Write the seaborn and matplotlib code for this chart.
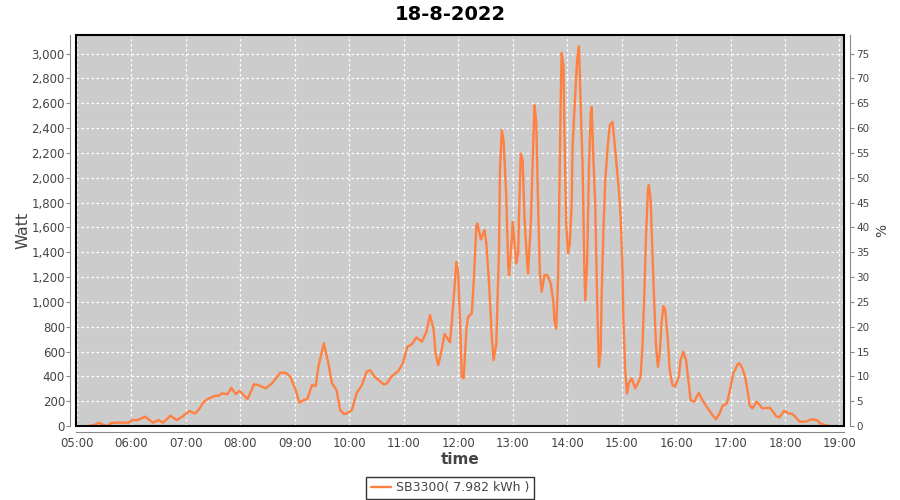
import pandas as pd
import matplotlib
matplotlib.use('Agg')
import matplotlib.pyplot as plt
import matplotlib.dates as mdates
import matplotlib.ticker as mticker
from matplotlib.patches import Rectangle
import seaborn as sns

# ── Data ───────────────────────────────────────────────────────────
day = '2022-08-18'
title = '18-8-2022'
series_label = 'SB3300( 7.982 kWh )'

times = [
    '05:13', '05:20', '05:24', '05:29', '05:33', '05:38', '05:45', '05:57',
    '06:01', '06:07', '06:15', '06:24', '06:30', '06:35', '06:43', '06:50',
    '06:57', '07:04', '07:10', '07:14', '07:20', '07:24', '07:31', '07:36',
    '07:40', '07:46', '07:50', '07:55', '07:59', '08:08', '08:15', '08:20',
    '08:28', '08:35', '08:44', '08:50', '08:55', '09:01', '09:05', '09:10',
    '09:14', '09:19', '09:23', '09:26', '09:32', '09:37', '09:41', '09:46',
    '09:50', '09:54', '09:57', '10:03', '10:08', '10:14', '10:19', '10:23',
    '10:28', '10:38', '10:41', '10:47', '10:54', '10:59', '11:04', '11:09',
    '11:14', '11:20', '11:25', '11:29', '11:33', '11:35', '11:38', '11:42',
    '11:45', '11:47', '11:51', '11:53', '11:56', '11:58', '12:00', '12:02',
    '12:04', '12:06', '12:09', '12:11', '12:15', '12:17', '12:20', '12:21',
    '12:25', '12:29', '12:31', '12:34', '12:37', '12:39', '12:42', '12:45',
    '12:46', '12:48', '12:50', '12:53', '12:55', '12:56', '12:59', '13:00',
    '13:02', '13:04', '13:06', '13:08', '13:09', '13:11', '13:13', '13:16',
    '13:17', '13:20', '13:22', '13:24', '13:26', '13:28', '13:30', '13:32',
    '13:35', '13:38', '13:42', '13:45', '13:46', '13:48', '13:50', '13:51',
    '13:52', '13:53', '13:54', '13:56', '13:57', '13:59', '14:01', '14:03',
    '14:05', '14:06', '14:09', '14:11', '14:13', '14:15', '14:17', '14:19',
    '14:20', '14:22', '14:24', '14:26', '14:27', '14:29', '14:31', '14:33',
    '14:35', '14:37', '14:38', '14:40', '14:42', '14:45', '14:47', '14:50',
    '14:52', '14:55', '14:57', '14:59', '15:01', '15:02', '15:04', '15:06',
    '15:08', '15:11', '15:13', '15:15', '15:18', '15:21', '15:23', '15:25',
    '15:27', '15:29', '15:30', '15:32', '15:34', '15:36', '15:38', '15:40',
    '15:42', '15:44', '15:46', '15:48', '15:51', '15:53', '15:56', '15:59',
    '16:03', '16:05', '16:08', '16:11', '16:14', '16:16', '16:20', '16:25',
    '16:29', '16:35', '16:40', '16:44', '16:48', '16:51', '16:56', '16:59',
    '17:03', '17:08', '17:10', '17:13', '17:16', '17:19', '17:21', '17:24',
    '17:29', '17:32', '17:35', '17:43', '17:47', '17:50', '17:54', '17:59',
    '18:04', '18:08', '18:12', '18:16', '18:23', '18:29', '18:35', '18:39',
    '18:44', '18:49',
]
watt = [
    0, 10, 27, 10, 0, 25, 27, 27,
    48, 48, 75, 27, 48, 27, 83, 48,
    80, 121, 100, 130, 196, 217, 241, 244,
    263, 257, 308, 257, 284, 217, 335, 330,
    303, 344, 429, 429, 397, 290, 188, 210,
    220, 330, 322, 477, 666, 505, 344, 290,
    129, 97, 100, 129, 263, 330, 437, 450,
    397, 335, 340, 402, 443, 505, 638, 660,
    714, 679, 759, 894, 773, 585, 491, 620,
    741, 719, 674, 840, 1121, 1323, 1229, 853,
    397, 384, 773, 880, 907, 1149, 1605, 1632,
    1503, 1578, 1471, 1149, 719, 531, 666, 1443,
    2061, 2383, 2302, 1846, 1310, 1216, 1497, 1645,
    1471, 1310, 1390, 1967, 2195, 2141, 1685, 1310,
    1229, 1632, 2115, 2584, 2450, 1793, 1229, 1081,
    1216, 1216, 1149, 988, 853, 786, 1189, 1632,
    2168, 2651, 3005, 2900, 2383, 1632, 1390, 1471,
    1793, 2248, 2678, 2946, 3059, 2570, 2115, 1256,
    1014, 1310, 2061, 2517, 2570, 2141, 1779, 1041,
    477, 612, 1041, 1578, 1980, 2276, 2423, 2450,
    2302, 2061, 1900, 1685, 1256, 853, 451, 263,
    344, 384, 344, 303, 344, 400, 650, 1050,
    1550, 1900, 1940, 1820, 1390, 988, 638, 477,
    585, 827, 966, 940, 692, 451, 330, 318,
    397, 531, 598, 531, 344, 209, 196, 268,
    209, 142, 89, 54, 102, 161, 183, 276,
    424, 499, 505, 464, 397, 276, 169, 142,
    196, 169, 142, 148, 115, 80, 70, 123,
    102, 97, 70, 35, 35, 54, 48, 21,
    8, 0,
]

watt_ticks = list(range(0, 3001, 200))
pct_ticks = list(range(0, 76, 5))
hour_ticks = [f'{h:02d}:00' for h in range(5, 20)]

# ── Style ──────────────────────────────────────────────────────────
sns.set_style('white')
plt.rcParams['font.family'] = ['DejaVu Sans']
TXT = '#444444'
AX = '#888888'

df = pd.DataFrame({'time': pd.to_datetime([f'{day} {t}' for t in times]),
                   'watt': watt})

fig = plt.figure(figsize=(9, 5), dpi=100)
ax = fig.add_axes([76 / 900, 74 / 500, 768 / 900, 391 / 500])
ax.set_facecolor('#cccccc')

sns.lineplot(data=df, x='time', y='watt', ax=ax, color='#ff8040',
             linewidth=1.7, label=series_label, legend=False)

ymax = 3150
ax.set_xlim(pd.Timestamp(f'{day} 04:59'), pd.Timestamp(f'{day} 19:05'))
ax.set_ylim(0, ymax)
ax.set_xticks(pd.to_datetime([f'{day} {t}' for t in hour_ticks]))
ax.xaxis.set_major_formatter(mdates.DateFormatter('%H:%M'))
ax.set_yticks(watt_ticks)
ax.yaxis.set_major_formatter(mticker.FuncFormatter(lambda v, _: f'{v:,.0f}'))

ax.grid(True, color='white', linestyle=(0, (2, 2)), linewidth=0.9)
ax.set_axisbelow(True)

for s in ['left', 'bottom']:
    ax.spines[s].set_position(('outward', 4))
    ax.spines[s].set_color(AX)
ax.spines['top'].set_visible(False)
ax.spines['right'].set_visible(False)
ax.tick_params(axis='both', colors=AX, labelcolor=TXT, labelsize=8.5,
               length=3, width=0.8, direction='out', pad=1)

ax.add_patch(Rectangle((0, 0), 1, 1, transform=ax.transAxes, fill=False,
                       edgecolor='black', linewidth=1.5, clip_on=False,
                       zorder=10))

ax.set_xlabel('time', fontsize=11, fontweight='bold', color=TXT, labelpad=1)
ax.set_ylabel('Watt', fontsize=11.5, color=TXT, labelpad=1)

# right axis in percent of 4000 W
ax2 = ax.twinx()
ax2.set_ylim(0, ymax / 40)
ax2.set_yticks(pct_ticks)
ax2.spines['right'].set_position(('outward', 4))
ax2.spines['right'].set_color(AX)
for s in ['left', 'top', 'bottom']:
    ax2.spines[s].set_visible(False)
ax2.tick_params(axis='y', colors=AX, labelcolor=TXT, labelsize=7.5,
                length=3, width=0.8, pad=2)
ax2.set_ylabel('%', fontsize=10, color=TXT, labelpad=4)
ax2.grid(False)

fig.suptitle(title, y=0.972, va='center', fontsize=14, fontweight='bold',
             color='black')

h, l = ax.get_legend_handles_labels()
leg = fig.legend(h, l, loc='center', bbox_to_anchor=(0.5, 0.024),
                 fontsize=9, frameon=True, fancybox=False, handlelength=1.6,
                 handletextpad=0.4, borderpad=0.35, borderaxespad=0)
leg.get_frame().set_edgecolor('black')
leg.get_frame().set_linewidth(1)
for t in leg.get_texts():
    t.set_color(TXT)

fig.savefig('out.png', dpi=100)
